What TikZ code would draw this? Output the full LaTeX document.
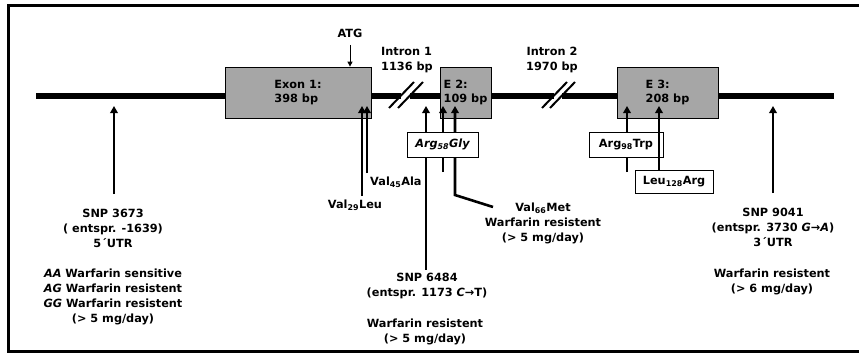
\documentclass[tikz,border=0pt]{standalone}
\usepackage{fontspec}
\setmainfont{DejaVu Sans}
\usetikzlibrary{arrows.meta,positioning,calc}

\begin{document}
\begin{tikzpicture}[
  x=1pt,y=-1pt,
  font=\bfseries\fontsize{11.3}{15}\selectfont,
  exon/.style={draw,fill=gray!70,line width=0.8pt,minimum height=51pt,
    inner sep=0pt,align=left,font=\bfseries\fontsize{11.3}{14}\selectfont},
  aabox/.style={draw,fill=white,line width=0.8pt,minimum height=25pt,inner sep=2pt},
  txt/.style={align=center},
  snp/.style={line width=2.6pt,-{Triangle[length=7pt,width=7.5pt]}},
  atgarrow/.style={line width=1pt,-{Triangle[length=5pt,width=5pt]}},
  brk/.style={line width=2pt},
  gene/.style={line width=5.5pt}
]
\useasboundingbox (0,0) rectangle (859,356);
% frame
\draw[line width=3pt] (866,5) -- (8,5) -- (8,351) -- (866,351);

% gene line, broken in the introns
\draw[gene] (36,96) -- (401,96) (410,96) -- (554,96) (562,96) -- (834,96);
\foreach \sx in {401,410,554,562}
  \draw[brk] (\sx-12,108) -- (\sx+13,82);

% exons
\node[exon,minimum width=146pt] (ex1) at (298,92.5) {Exon 1:\\398 bp};
\node[exon,minimum width=51pt] (ex2) at (465.5,92.5) {E 2:\\109 bp};
\node[exon,minimum width=101pt] (ex3) at (667.5,92.5) {E 3:\\208 bp};

\node[txt,align=left] (in1) at (407,60) {Intron 1\\1136 bp};
\node[txt] (in2) at (552,60) {Intron 2\\1970 bp};
\node (atg) at (350,33) {ATG};
\draw[atgarrow,shorten <=4pt] (atg.south) -- (atg.south |- ex1.north);

% arrow tips below the gene line
\foreach \n/\x in {tA/114,tV29/362,tV45/367,tI1/426,tG58/443,tM66/455,tW98/627,tL128/659,tD/773}
  \coordinate (\n) at (\x,106);
\coordinate (bG58) at (443,172);
\coordinate (bW98) at (627,172);
\coordinate (kC) at (455,195);
\coordinate (eC) at (493,207);

% labels
\node[txt] (snpA) at (113,228) {SNP 3673\\( entspr. -1639)\\5´UTR};
\node[txt] (effA) at (113,297) {{\itshape AA} Warfarin sensitive\\{\itshape AG} Warfarin resistent\\{\itshape GG} Warfarin resistent\\(> 5 mg/day)};
\node[txt] (valA) at (355,205) {Val\textsubscript{29}Leu};
\node[txt,anchor=west] (valB) at (366.7,182) {Val\textsubscript{45}Ala};
\node[txt] (valC) at (543,223) {Val\textsubscript{66}Met\\Warfarin resistent\\(> 5 mg/day)};
\node[txt] (snpB) at (427,286) {SNP 6484\\(entspr. 1173 {\itshape C}→T)};
\node[txt] (effB) at (425,332) {Warfarin resistent\\(> 5 mg/day)};
\node[txt] (snpD) at (773,227) {SNP 9041\\(entspr. 3730 {\itshape G→A})\\3´UTR};
\node[txt] (effD) at (772,282) {Warfarin resistent\\(> 6 mg/day)};

% arrows
\draw[snp,shorten <=11pt] (snpA.north -| tA) -- (tA);
\draw[snp] (valA.north -| tV29) -- (tV29);
\draw[snp] (valB.north west -| tV45) -- (tV45);
\draw[snp] (snpB.north -| tI1) -- (tI1);
\draw[snp] (bG58) -- (tG58);
\draw[snp] (eC) -- (kC) -- (tM66);
\draw[snp] (bW98) -- (tW98);
\draw[snp,shorten <=11pt] (snpD.north -| tD) -- (tD);

% amino acid exchanges
\node[aabox,minimum width=71pt] (g58) at (442.5,144.5) {\itshape Arg\textsubscript{58}Gly};
\node[aabox,minimum width=74pt] (w98) at (626,144.5) {Arg\textsubscript{98}Trp};
\node[aabox,minimum width=78pt,minimum height=23pt] (l128) at (674,181.5) {Leu\textsubscript{128}Arg};
\draw[snp] (l128.north -| tL128) -- (tL128);
\end{tikzpicture}
\end{document}
